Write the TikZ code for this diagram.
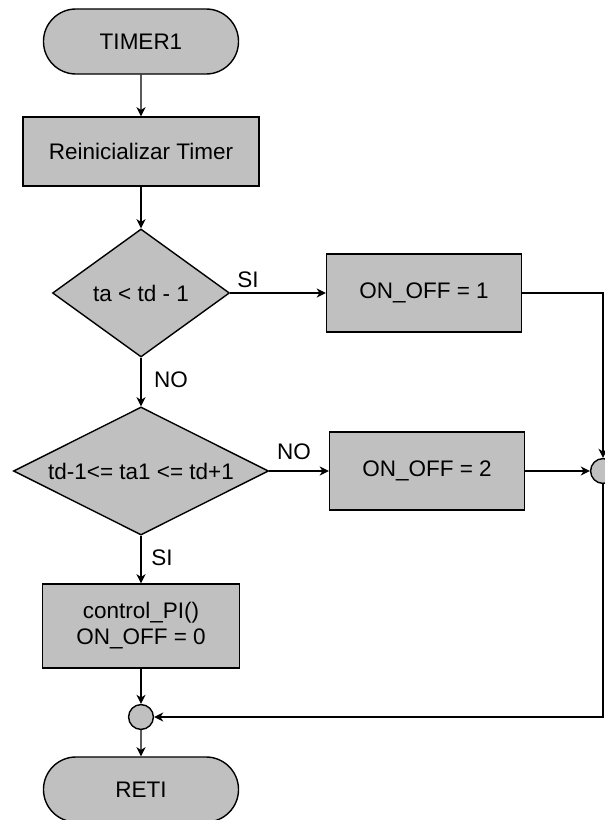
\documentclass[tikz,border=0pt]{standalone}
\usepackage{fontspec}
\setmainfont{Liberation Sans}
\usetikzlibrary{shapes.geometric,shapes.misc,arrows.meta}
\definecolor{boxgray}{RGB}{192,192,192}
\begin{document}
\begin{tikzpicture}[x=0.025cm,y=-0.025cm,->,>={Stealth[length=6.5pt,width=6.5pt,inset=2pt]},line width=1pt,
		every node/.style={draw,fill=boxgray,font=\fontsize{16}{18.5}\selectfont,inner sep=0},
		term/.style={rounded rectangle,minimum width=4.875cm,minimum height=1.625cm},
		proc/.style={rectangle,minimum width=4.875cm,minimum height=1.95cm},
		cond/.style={diamond,aspect=2,minimum height=3.2cm},
		junc/.style={circle,minimum size=0.62cm},
		lbl/.style={draw=none,fill=none}]
		\useasboundingbox (0,0) rectangle (604,820);
		\node[term] (timer) at (141,41.5) {TIMER1};
		\node[proc,minimum width=5.9cm,minimum height=1.725cm] (reset) at (141,151.5) {Reinicializar Timer};
		\node[cond,minimum width=4.425cm] (c1) at (141,293) {ta < td - 1};
		\node[proc] (on1) at (424,293) {ON\_OFF = 1};
		\node[cond,minimum width=6.375cm] (c2) at (141,471) {td-1<= ta1 <= td+1};
		\node[proc] (on2) at (427,471) {ON\_OFF = 2};
		\node[proc,minimum width=4.925cm,minimum height=2.1cm,align=center] (pi) at (141,626) {control\_PI()\\ON\_OFF = 0};
		\node[junc] (j1) at (603,471) {};
		\node[junc] (j2) at (141,717) {};
		\node[term] (reti) at (141,789.5) {RETI};
		\node[lbl] (si1) at (248,280) {SI};
		\node[lbl] (no1) at (171,380) {NO};
		\node[lbl] (no2) at (294,452) {NO};
		\node[lbl] (si2) at (162,558) {SI};
		\draw (timer) -- (reset); \draw (reset) -- (c1); \draw (c1) -- (on1);
		\draw (c1) -- (c2); \draw (c2) -- (on2); \draw (c2) -- (pi);
		\draw (on1) -| (j1); \draw (on2) -- (j1); \draw (pi) -- (j2);
		\draw (j1) |- (j2); \draw (j2) -- (reti);
	\end{tikzpicture}
\end{document}
